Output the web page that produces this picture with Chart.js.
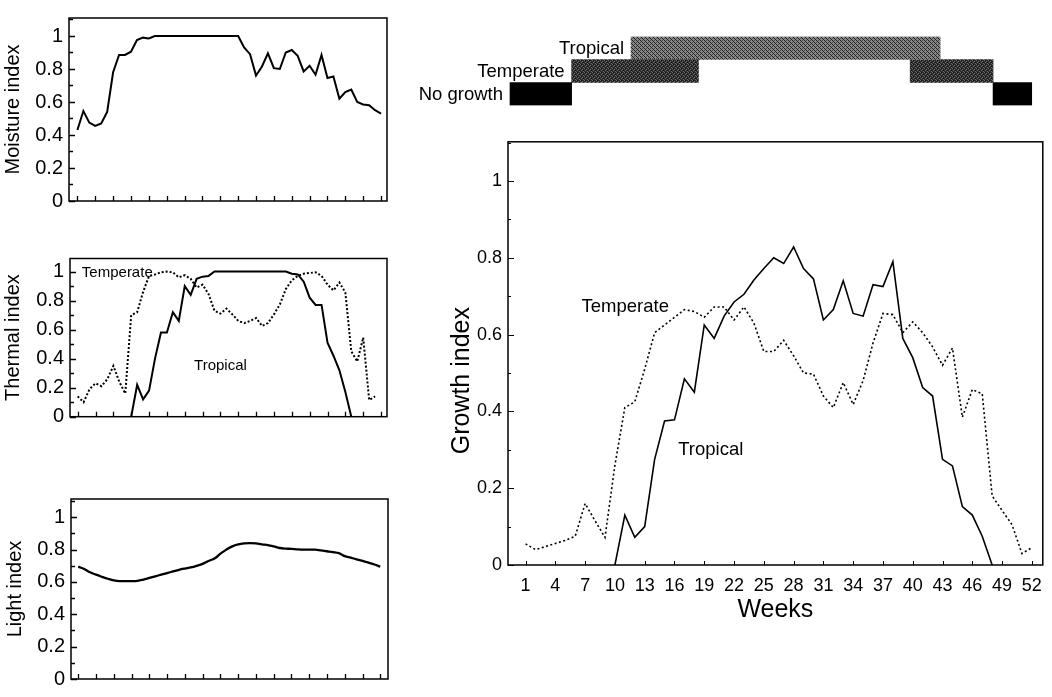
<!DOCTYPE html>
<html><head><meta charset="utf-8">
<script src="https://cdn.jsdelivr.net/npm/chart.js@4.4.0/dist/chart.umd.min.js"></script>
<style>
html,body{margin:0;padding:0;background:#fff;}
body{width:1052px;height:697px;position:relative;overflow:hidden;}
canvas{position:absolute;}
</style></head><body>
<canvas id="cMoist" style="left:0px;top:0px" width="400" height="230"></canvas>
<canvas id="cTherm" style="left:0px;top:240px" width="400" height="200"></canvas>
<canvas id="cLight" style="left:0px;top:470px" width="400" height="227"></canvas>
<canvas id="cBars" style="left:400px;top:0px" width="652" height="120"></canvas>
<canvas id="cGrowth" style="left:440px;top:125px" width="612" height="572"></canvas>
<script>
// ---------------- DATA ----------------
const weeks = [1,2,3,4,5,6,7,8,9,10,11,12,13,14,15,16,17,18,19,20,21,22,23,24,25,26,
  27,28,29,30,31,32,33,34,35,36,37,38,39,40,41,42,43,44,45,46,47,48,49,50,51,52];
const weekTicks = [1,4,7,10,13,16,19,22,25,28,31,34,37,40,43,46,49,52];

const moisture = [0.43,0.545,0.475,0.455,0.47,0.54,0.78,0.885,0.885,0.905,0.975,0.99,0.985,
  1,1,1,1,1,1,1,1,1,1,1,1,1,1,1,
  0.93,0.89,0.76,0.815,0.895,0.805,0.80,0.90,0.915,0.88,0.785,0.82,0.765,0.885,0.745,0.755,
  0.62,0.66,0.675,0.60,0.585,0.58,0.55,0.53];

const thermalTemperate = [0.14,0.10,0.19,0.23,0.21,0.26,0.35,0.24,0.16,0.70,0.72,0.86,0.97,0.98,
  0.995,1.0,0.995,0.96,0.975,0.95,0.89,0.91,0.845,0.73,0.71,0.745,0.705,0.66,0.645,0.66,0.68,
  0.625,0.645,0.705,0.775,0.88,0.94,0.97,0.985,0.99,0.995,0.97,0.91,0.87,0.925,0.855,0.45,
  0.38,0.545,0.115,0.14,null];
const thermalTropical = [null,null,null,null,null,null,null,null,null,0,
  0.22,0.12,0.18,0.40,0.58,0.58,0.72,0.66,0.90,0.84,0.95,0.965,0.97,
  1,1,1,1,1,1,1,1,1,1,1,1,1,
  0.985,0.98,0.93,0.82,0.77,0.77,0.51,0.42,0.32,0.17,0,null,null,null,null,null];

const light = [0.695,0.68,0.66,0.645,0.632,0.62,0.61,0.605,0.605,0.605,0.607,0.615,0.625,0.635,
  0.645,0.655,0.665,0.675,0.683,0.69,0.70,0.712,0.73,0.745,0.775,0.80,0.82,0.832,0.838,0.84,
  0.838,0.832,0.828,0.82,0.81,0.806,0.805,0.802,0.80,0.80,0.80,0.795,0.79,0.785,0.778,0.76,
  0.75,0.74,0.73,0.72,0.708,0.695];

const growthTemperate = [0.055,0.04,0.048,0.056,0.064,0.075,0.16,0.115,0.072,0.26,
  0.41,0.425,0.51,0.605,0.625,0.645,0.665,0.66,0.645,0.672,
  0.672,0.638,0.672,0.63,0.556,0.556,0.585,0.545,0.5,0.497,
  0.44,0.41,0.475,0.418,0.48,0.578,0.655,0.652,0.605,0.633,
  0.605,0.568,0.52,0.565,0.385,0.457,0.446,0.18,0.142,0.105,0.03,0.045];
const growthTropical = [null,null,null,null,null,null,null,null,null,0,
  0.13,0.072,0.10,0.275,0.375,0.378,0.485,0.45,0.625,0.59,
  0.648,0.685,0.705,0.742,0.772,0.80,0.785,0.828,0.772,0.745,
  0.638,0.665,0.74,0.655,0.648,0.73,0.725,0.79,0.59,0.54,
  0.462,0.44,0.275,0.258,0.152,0.13,0.075,0,null,null,null,null];

// growing-season bars (week ranges)
const barCategories = ['Tropical','Temperate','No growth'];
const tropicalSpans = [[11.55,42.5]];
const temperateSpans = [[5.6,18.3],[39.5,47.8]];
const noGrowthSpans = [[-0.57,5.6],[47.8,51.67]];

// ---------------- HELPERS ----------------
Chart.defaults.font.family = "'Liberation Sans', Arial, sans-serif";
Chart.defaults.color = '#000';

function pts(vals){ return weeks.map((w,i)=>({x:w, y:vals[i]})); }
function tenthLabel(v){
  const k = Math.round(v*10);
  return (k % 2 === 0) ? String(k/10) : '';
}

const frameTicks = {
  id:'frameTicks',
  afterDraw(chart, args, o){
    const {ctx, chartArea:a, scales} = chart;
    ctx.save();
    ctx.strokeStyle = '#000';
    ctx.lineWidth = o.frame;
    ctx.strokeRect(a.left, a.top, a.right-a.left, a.bottom-a.top);
    ctx.lineWidth = o.tickWidth;
    ctx.beginPath();
    scales.x.ticks.forEach(t=>{
      const px = Math.round(scales.x.getPixelForValue(t.value))+0.5;
      ctx.moveTo(px, a.bottom); ctx.lineTo(px, a.bottom - o.xTick);
    });
    scales.y.ticks.forEach(t=>{
      const py = Math.round(scales.y.getPixelForValue(t.value))+0.5;
      const len = t.label === '' ? o.yMinor : o.yMajor;
      ctx.moveTo(a.left, py); ctx.lineTo(a.left + len, py);
    });
    ctx.stroke();
    ctx.restore();
  }
};

const notes = {
  id:'notes',
  afterDatasetsDraw(chart, args, o){
    const {ctx, scales} = chart;
    ctx.save();
    ctx.fillStyle = '#000';
    ctx.textAlign = 'center';
    ctx.textBaseline = 'middle';
    (o.items||[]).forEach(it=>{
      ctx.font = o.font;
      ctx.fillText(it.text, scales.x.getPixelForValue(it.week), scales.y.getPixelForValue(it.value));
    });
    if (o.yTitle){
      ctx.save();
      ctx.font = o.yTitle.font;
      ctx.translate(o.yTitle.x, scales.y.getPixelForValue(o.yTitle.atValue));
      ctx.rotate(-Math.PI/2);
      ctx.fillText(o.yTitle.text, 0, 0);
      ctx.restore();
    }
    ctx.restore();
  }
};

function panel(id, cfg){
  const datasets = cfg.series.map(s=>({
    data: pts(s.values),
    borderColor:'#000',
    borderWidth: s.width,
    borderDash: s.dash || [],
    pointRadius:0,
    fill:false,
    tension: s.tension || 0,
    spanGaps:false
  }));
  return new Chart(document.getElementById(id), {
    type:'line',
    data:{datasets},
    plugins:[frameTicks, notes],
    options:{
      responsive:false, animation:false, devicePixelRatio:1,
      layout:{padding:cfg.padding},
      plugins:{
        legend:{display:false}, tooltip:{enabled:false},
        frameTicks:cfg.frameTicks,
        notes:{items:cfg.notes||[], font:cfg.noteFont||'15px "Liberation Sans", Arial',
               yTitle:cfg.customYTitle||null}
      },
      scales:{
        x:{
          type:'linear', min:cfg.xmin, max:cfg.xmax,
          afterBuildTicks:s=>{ s.ticks = weekTicks.map(v=>({value:v})); },
          afterFit:s=>{ s.height = cfg.xHeight; },
          grid:{display:false, drawTicks:false}, border:{display:false},
          ticks:{display:cfg.xLabels, autoSkip:false, maxRotation:0, padding:cfg.xPad||0,
                 font:{size:cfg.tickFont}, callback:v=>String(v)},
          title:{display:!!cfg.xTitle, text:cfg.xTitle||'', font:{size:cfg.xTitleFont||cfg.titleFont},
                 padding:{top:0,bottom:0}}
        },
        y:{
          type:'linear', min:0, max:cfg.ymax,
          afterFit:s=>{ s.width = cfg.yWidth; },
          grid:{display:false, drawTicks:false}, border:{display:false},
          ticks:{stepSize:0.1, includeBounds:false, autoSkip:false, padding:cfg.yPad,
                 font:{size:cfg.tickFont}, callback:v=>tenthLabel(v)},
          title:{display:!!cfg.yTitle, text:cfg.yTitle||'', font:{size:cfg.titleFont},
                 padding:{top:cfg.yTitlePad||0, bottom:0}}
        }
      }
    }
  });
}

// ---------------- LEFT PANELS ----------------
panel('cMoist', {
  series:[{values:moisture, width:2}],
  padding:{left:0, right:13, top:7, bottom:19},
  xmin:-0.41, xmax:53.0, ymax:1.109, xHeight:10, yWidth:69, xLabels:false,
  tickFont:20, titleFont:20, yPad:6, yTitlePad:1, yTitle:'Moisture index',
  frameTicks:{frame:1.5, tickWidth:1.3, xTick:5, yMajor:6, yMinor:4}
});
panel('cTherm', {
  series:[{values:thermalTemperate, width:2, dash:[2,2]},{values:thermalTropical, width:2}],
  padding:{left:0, right:13, top:18.5, bottom:13.3},
  xmin:-0.29, xmax:53.0, ymax:1.09, xHeight:10, yWidth:70, xLabels:false,
  tickFont:20, titleFont:20, yPad:6, yTitlePad:1, yTitle:'Thermal index',
  notes:[{text:'Temperate', week:7.66, value:0.993},{text:'Tropical', week:25.0, value:0.35}],
  noteFont:'15px "Liberation Sans", Arial',
  frameTicks:{frame:1.5, tickWidth:1.3, xTick:5, yMajor:6, yMinor:4}
});
panel('cLight', {
  series:[{values:light, width:2.3, tension:0.4}],
  padding:{left:0, right:12, top:29, bottom:5},
  xmin:-0.23, xmax:53.3, ymax:1.113, xHeight:6, yWidth:71, xLabels:false,
  tickFont:20, titleFont:20, yPad:6, yTitlePad:3, yTitle:'Light index',
  frameTicks:{frame:1.5, tickWidth:1.3, xTick:5, yMajor:6, yMinor:4}
});

// ---------------- GROWTH PANEL ----------------
panel('cGrowth', {
  series:[{values:growthTemperate, width:1.6, dash:[2,2.5]},{values:growthTropical, width:1.6}],
  padding:{left:0, right:6, top:8, bottom:72},
  xmin:-0.77, xmax:53.1, ymax:1.102, xHeight:60, yWidth:68, xLabels:true, xPad:10,
  tickFont:18, titleFont:25, xTitleFont:25, yPad:6, xTitle:'Weeks',
  customYTitle:{text:'Growth index', x:22.5, atValue:0.48, font:'25px "Liberation Sans", Arial'},
  notes:[{text:'Temperate', week:11.04, value:0.671},{text:'Tropical', week:19.66, value:0.30}],
  noteFont:'18.5px "Liberation Sans", Arial',
  frameTicks:{frame:1.5, tickWidth:1, xTick:4, yMajor:6, yMinor:3}
});

// ---------------- SEASON BARS ----------------
function makePattern(kind){
  const c = document.createElement('canvas');
  c.width = 4; c.height = 4;
  const g = c.getContext('2d');
  if (kind === 'tropical'){
    g.fillStyle = '#8a8a8a'; g.fillRect(0,0,4,4);
    g.fillStyle = '#1e1e1e';
    for (let i=0;i<4;i++){ g.fillRect(i,i,1,1); }
    g.fillStyle = '#4a4a4a';
    g.fillRect(2,0,1,1); g.fillRect(0,2,1,1);
  } else {
    g.fillStyle = '#2c2c2c'; g.fillRect(0,0,4,4);
    g.fillStyle = '#6e6e6e';
    g.fillRect(0,0,1,1); g.fillRect(2,1,1,1); g.fillRect(1,2,1,1); g.fillRect(3,3,1,1);
    g.fillStyle = '#0a0a0a';
    g.fillRect(1,0,1,1); g.fillRect(3,2,1,1);
  }
  return g.createPattern(c, 'repeat');
}
const spansByCategory = [tropicalSpans, temperateSpans, noGrowthSpans];
const barFills = [makePattern('tropical'), makePattern('temperate'), '#000'];

const barLabels = {
  id:'barLabels',
  afterDatasetsDraw(chart){
    const {ctx, scales} = chart;
    ctx.save();
    ctx.fillStyle = '#000';
    ctx.font = '18.5px "Liberation Sans", Arial';
    ctx.textAlign = 'right';
    ctx.textBaseline = 'middle';
    barCategories.forEach((name,i)=>{
      const start = Math.min(...spansByCategory[i].map(s=>s[0]));
      ctx.fillText(name, scales.x.getPixelForValue(start) - 7, scales.y.getPixelForValue(i) + 1);
    });
    ctx.restore();
  }
};

new Chart(document.getElementById('cBars'), {
  type:'bar',
  data:{
    labels: barCategories,
    datasets:[0,1].map(k=>({
      data: spansByCategory.map(sp=> sp[k] || null),
      backgroundColor: barFills,
      borderWidth:0,
      grouped:false,
      barPercentage:1,
      categoryPercentage:1
    }))
  },
  plugins:[barLabels],
  options:{
    indexAxis:'y', responsive:false, animation:false, devicePixelRatio:1,
    layout:{padding:{left:108, right:6, top:36.5, bottom:14.5}},
    plugins:{legend:{display:false}, tooltip:{enabled:false}},
    scales:{
      x:{type:'linear', min:-0.77, max:53.1, display:false},
      y:{type:'category', display:false}
    }
  }
});
</script>
</body></html>
